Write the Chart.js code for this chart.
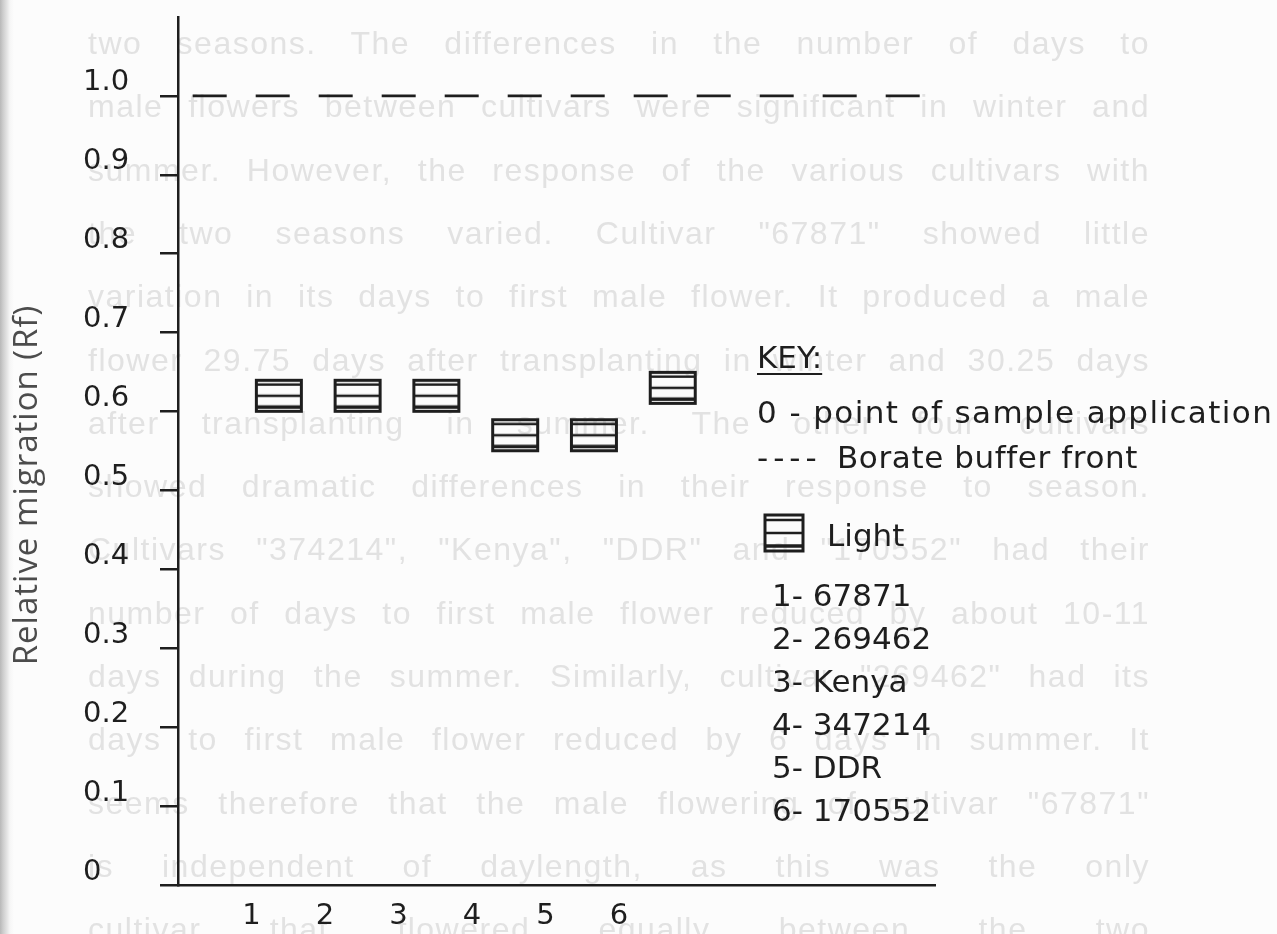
<!DOCTYPE html>
<html>
<head>
<meta charset="utf-8">
<script src="https://cdn.jsdelivr.net/npm/chart.js@4.4.1/dist/chart.umd.min.js"></script>
<style>
  html, body { margin: 0; padding: 0; }
  body {
    width: 1277px; height: 934px; overflow: hidden; position: relative;
    background: linear-gradient(to right, #b8b8b8 0px, #cdcdcd 3px, #e4e4e4 7px, #f6f6f6 10px, #fcfcfc 14px);
  }
  #under { position: absolute; left: 0; top: 0; width: 1277px; height: 934px; filter: blur(0.7px); }
  #under div {
    position: absolute; left: 88px; width: 1062px; height: 40px; line-height: 40px;
    font: 32px "Liberation Sans", sans-serif; letter-spacing: 1.5px; color: #e2e2e2;
    text-align: justify; text-align-last: justify; overflow: hidden;
  }
  #plot { position: absolute; left: 0; top: 0; }
</style>
</head>
<body>
<div id="under"></div>
<canvas id="plot" width="1277" height="934"></canvas>
<script>
// lanes on the plate and Rf of the "Light" band in each
const lanes = [1, 2, 3, 4, 5, 6];
const laneLabels = ['1', '2', '3', '4', '5', '6'];
const rfLight = [0.62, 0.62, 0.62, 0.57, 0.57, 0.63];
const cultivars = ['67871', '269462', 'Kenya', '347214', 'DDR', '170552'];

// borate buffer front
const frontRf = 1.0;
const frontSpan = [0.2, 10.15];

const yTicks = [0, 0.1, 0.2, 0.3, 0.4, 0.5, 0.6, 0.7, 0.8, 0.9, 1.0];
const yTickLabels = ['0', '0.1', '0.2', '0.3', '0.4', '0.5', '0.6', '0.7', '0.8', '0.9', '1.0'];

// text of the facing page that shows through the paper
const pageLines = [
  'two seasons.  The differences in the number of days to',
  'male flowers between cultivars were significant in winter and',
  'summer.  However, the response of the various cultivars with',
  'the two seasons varied.  Cultivar "67871" showed little',
  'variation in its days to first male flower.  It produced a male',
  'flower 29.75 days after transplanting in winter and 30.25 days',
  'after transplanting in summer.  The other four cultivars',
  'showed dramatic differences in their response to season.',
  'Cultivars "374214", "Kenya", "DDR" and "170552" had their',
  'number of days to first male flower reduced by about 10-11',
  'days during the summer.  Similarly, cultivar "269462" had its',
  'days to first male flower reduced by 6 days in summer.  It',
  'seems therefore that the male flowering of cultivar "67871"',
  'is independent of daylength, as this was the only',
  'cultivar that flowered equally between the two'
];

const under = document.getElementById('under');
pageLines.forEach(function(t, i) {
  const d = document.createElement('div');
  d.textContent = t;
  d.style.top = (25 + i * 63.3) + 'px';
  under.appendChild(d);
});

const INK = '#1e1e1e';
const LINE_W = 2.5;

// band symbol: a box cut by three horizontal lines
function drawBand(ctx, cx, cy, w, h) {
  const x = cx - w / 2, y = cy - h / 2;
  ctx.save();
  ctx.strokeStyle = INK;
  ctx.lineWidth = 3;
  ctx.strokeRect(x, y, w, h);
  [0.14, 0.5, 0.86].forEach(function(f, i) {
    ctx.lineWidth = i === 2 ? 3.5 : 2.5;
    ctx.beginPath();
    ctx.moveTo(x, y + h * f);
    ctx.lineTo(x + w, y + h * f);
    ctx.stroke();
  });
  ctx.restore();
}

const bandImg = document.createElement('canvas');
bandImg.width = 50;
bandImg.height = 36;
drawBand(bandImg.getContext('2d'), 25, 18, 45, 31);

const keyPanel = {
  id: 'keyPanel',
  afterDraw: function(chart) {
    const ctx = chart.ctx;
    ctx.save();
    ctx.fillStyle = INK;
    ctx.textAlign = 'left';
    ctx.textBaseline = 'middle';
    ctx.font = '31px "DejaVu Sans"';
    ctx.fillText('KEY:', 757, 360);
    ctx.fillRect(757, 373, ctx.measureText('KEY:').width, 2);
    ctx.letterSpacing = '1.4px';
    ctx.fillText('0 - point of sample application', 757, 415);
    ctx.letterSpacing = '5px';
    ctx.fillText('----', 757, 460);
    ctx.letterSpacing = '0.6px';
    ctx.fillText('Borate buffer front', 837, 460);
    ctx.letterSpacing = '0px';
    drawBand(ctx, 784, 533, 38, 36);
    ctx.fillText('Light', 827, 538);
    cultivars.forEach(function(c, i) {
      ctx.fillText(laneLabels[i] + '- ' + c, 772, 598 + i * 43);
    });

    // y axis title
    ctx.translate(28, 485);
    ctx.rotate(-Math.PI / 2);
    ctx.textAlign = 'center';
    ctx.fillStyle = '#4c4c4c';
    ctx.font = '33px "Open Sans"';
    ctx.letterSpacing = '1px';
    ctx.fillText('Relative migration (Rf)', 0, 0);
    ctx.restore();
  }
};

new Chart(document.getElementById('plot'), {
  data: {
    datasets: [
      {
        type: 'line',
        label: 'Borate buffer front',
        data: frontSpan.map(function(x) { return {x: x, y: frontRf}; }),
        xAxisID: 'x',
        borderColor: INK,
        borderWidth: 2.8,
        borderDash: [34, 29],
        pointRadius: 0,
        fill: false
      },
      {
        type: 'scatter',
        label: 'Light',
        data: lanes.map(function(l, i) { return {x: l, y: rfLight[i]}; }),
        xAxisID: 'xb',
        pointStyle: bandImg,
        pointRadius: 16
      }
    ]
  },
  options: {
    responsive: false,
    devicePixelRatio: 1,
    animation: false,
    layout: { padding: { left: 83, right: 342, top: 17, bottom: 0 } },
    plugins: { legend: { display: false }, tooltip: { enabled: false } },
    scales: {
      x: {
        type: 'linear',
        position: 'bottom',
        min: 0,
        max: 10.3,
        afterBuildTicks: function(s) { s.ticks = lanes.map(function(v) { return {value: v}; }); },
        afterFit: function(s) { s.height = 49; s.paddingLeft = 0; s.paddingRight = 0; },
        grid: { display: false, drawTicks: false },
        border: { display: true, color: INK, width: LINE_W },
        ticks: {
          color: INK,
          padding: 14,
          font: { family: 'DejaVu Sans', size: 29 },
          maxRotation: 0,
          callback: function(v) { return laneLabels[lanes.indexOf(v)]; }
        }
      },
      xb: {
        type: 'linear',
        display: false,
        min: -0.28,
        max: 9.33
      },
      y: {
        type: 'linear',
        position: 'left',
        min: 0,
        max: 1.1,
        afterBuildTicks: function(s) { s.ticks = yTicks.map(function(v) { return {value: v}; }); },
        afterFit: function(s) { s.width = 95; s.paddingTop = 0; s.paddingBottom = 0; },
        grid: { drawOnChartArea: false, drawTicks: true, tickLength: 18, color: INK, lineWidth: LINE_W },
        border: { display: true, color: INK, width: LINE_W },
        ticks: {
          color: INK,
          crossAlign: 'far',
          labelOffset: -13,
          font: { family: 'DejaVu Sans', size: 29 },
          callback: function(v) { return yTickLabels[yTicks.indexOf(v)]; }
        }
      }
    }
  },
  plugins: [keyPanel]
});
</script>
</body>
</html>
